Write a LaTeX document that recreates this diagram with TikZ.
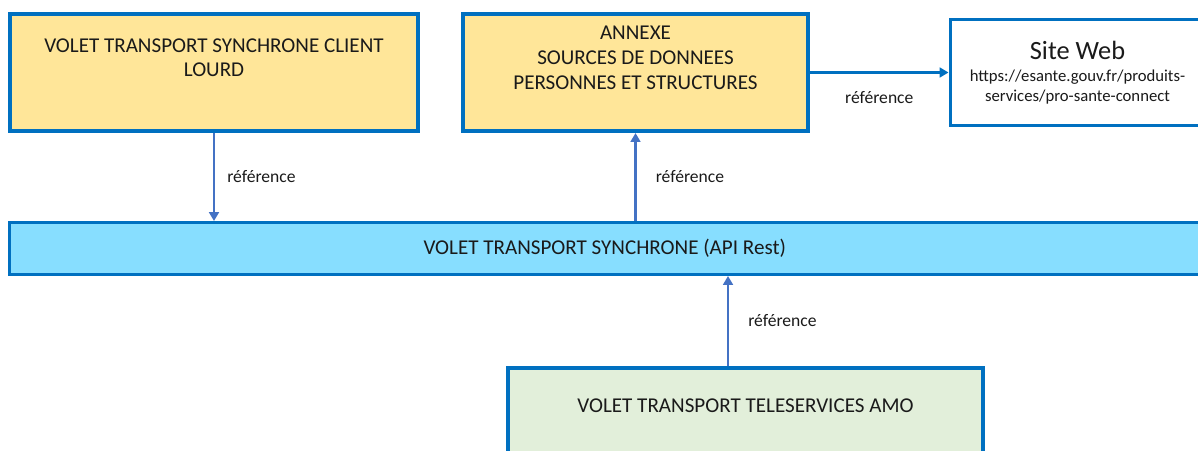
\documentclass[tikz,border=0pt]{standalone}
\usepackage{fontspec}
\setmainfont{Carlito}
\usetikzlibrary{positioning,arrows.meta}
\definecolor{boxblue}{HTML}{0070C0}
\definecolor{arrowblue}{HTML}{4472C4}
\definecolor{paleyellow}{HTML}{FFE699}
\definecolor{skyfill}{HTML}{87DEFF}
\definecolor{palegreen}{HTML}{E2EFDA}
\definecolor{inktext}{HTML}{1A1A1A}

\begin{document}
\begin{tikzpicture}[
  bigbox/.style={draw=boxblue, line width=2.3pt, inner sep=0pt},
  thinbox/.style={draw=boxblue, line width=1.7pt, inner sep=0pt},
  boxtext/.style={inner sep=0pt, align=center, text=inktext,
    font=\fontsize{12}{14.2}\selectfont},
  ref/.style={draw=arrowblue, line width=1.5pt,
    -{Triangle[length=5pt,width=5.5pt]}},
  reflabel/.style={inner sep=0pt, text=inktext, font=\fontsize{10}{12}\selectfont}
]
\useasboundingbox (0,0) rectangle (23.96,9);

\node[bigbox, fill=paleyellow, minimum width=8.16cm, minimum height=2.34cm] (client) at (4.28,7.55) {};
\node[boxtext, below=0.52cm of client.north] (clienttxt)
  {VOLET TRANSPORT SYNCHRONE CLIENT\\LOURD};

\node[bigbox, fill=paleyellow, minimum width=6.9cm, minimum height=2.34cm] (annexe) at (12.71,7.55) {};
\node[boxtext, below=0.27cm of annexe.north] (annexetxt)
  {ANNEXE\\SOURCES DE DONNEES\\PERSONNES ET STRUCTURES};

\node[thinbox, fill=white, minimum width=5.1cm, minimum height=2.12cm, align=center, text=inktext,
  font=\fontsize{9.5}{11.3}\selectfont] (siteweb) at (21.55,7.55)
  {{\fontsize{15}{18}\selectfont Site Web}\\[1pt]
   https://esante.gouv.fr/produits-\\services/pro-sante-connect};

\node[thinbox, fill=skyfill, minimum width=23.81cm, minimum height=1.04cm, boxtext] (api) at (12.095,4.03)
  {VOLET TRANSPORT SYNCHRONE (API Rest)};

\node[bigbox, fill=palegreen, minimum width=9.5cm, minimum height=2.24cm] (amo) at (14.91,0.52) {};
\node[boxtext, below=0.64cm of amo.north] (amotxt) {VOLET TRANSPORT TELESERVICES AMO};

\draw[ref] (client.south) -- (client.south |- api.north)
  node[reflabel, midway, right=0.24cm] (ref1) {référence};
\draw[ref] (annexe.south |- api.north) -- (annexe.south)
  node[reflabel, midway, right=0.38cm] (ref2) {référence};
\draw[ref, draw=boxblue] (annexe.east) -- (siteweb.west)
  node[reflabel, midway, below=0.36cm] (ref3) {référence};
\coordinate (amofoot) at ([xshift=-0.35cm]amo.north);
\draw[ref] (amofoot) -- (amofoot |- api.south)
  node[reflabel, midway, right=0.38cm] (ref4) {référence};
\end{tikzpicture}
\end{document}
